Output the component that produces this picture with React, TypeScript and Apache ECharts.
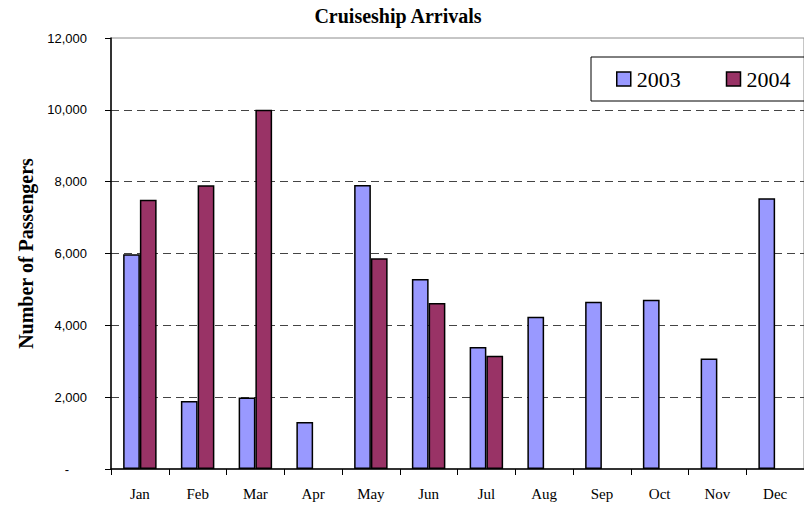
import React, { useEffect, useRef } from "react";
import * as echarts from "echarts";

const months = ["Jan", "Feb", "Mar", "Apr", "May", "Jun", "Jul", "Aug", "Sep", "Oct", "Nov", "Dec"];
const arrivals2003 = [5980, 1890, 1990, 1310, 7910, 5290, 3400, 4240, 4660, 4710, 3080, 7540];
const arrivals2004: (number | null)[] = [7500, 7900, 10000, null, 5870, 4620, 3150, null, null, null, null, null];
const yTicks = { min: 0, max: 12000, interval: 2000 };

export default function App() {
  const ref = useRef<HTMLDivElement>(null);
  useEffect(() => {
    if (!ref.current) return;
    const chart = echarts.init(ref.current, null, { renderer: "svg" });
    const serif = "Liberation Serif";
    const sans = "Liberation Sans";
    chart.setOption({
      animation: false,
      backgroundColor: "#ffffff",
      title: {
        text: "Cruiseship Arrivals",
        left: 398,
        top: 6,
        textAlign: "center",
        padding: 0,
        textStyle: { fontFamily: serif, fontSize: 20, fontWeight: "bold", color: "#000" },
      },
      legend: {
        orient: "horizontal",
        left: 591,
        top: 57,
        width: 260,
        padding: [11, 25, 11, 25],
        borderColor: "#000",
        borderWidth: 1,
        itemWidth: 14,
        itemHeight: 14,
        itemGap: 45,
        icon: "rect",
        textStyle: { fontFamily: serif, fontSize: 22, color: "#000", padding: [0, 0, 0, 1] },
        itemStyle: { borderColor: "#000", borderWidth: 1.5 },
        data: ["2003", "2004"],
      },
      grid: {
        left: 111,
        top: 38,
        bottom: 36,
        right: -10,
        show: true,
        borderColor: "#8c8c8c",
        borderWidth: 1,
        backgroundColor: "transparent",
      },
      xAxis: {
        type: "category",
        data: months,
        axisLine: { lineStyle: { color: "#000", width: 1.5 } },
        axisTick: { show: true, length: 6, lineStyle: { color: "#000", width: 1 } },
        axisLabel: { fontFamily: serif, fontSize: 15, color: "#000", margin: 17 },
      },
      yAxis: {
        type: "value",
        min: yTicks.min,
        max: yTicks.max,
        interval: yTicks.interval,
        name: "Number of Passengers",
        nameLocation: "middle",
        nameGap: 58,
        nameTextStyle: { fontFamily: serif, fontSize: 20, fontWeight: "bold", color: "#000" },
        axisLine: { show: true, lineStyle: { color: "#000", width: 1.5 } },
        axisTick: { show: true, length: 6, lineStyle: { color: "#000", width: 1 } },
        axisLabel: {
          fontFamily: sans,
          fontSize: 13,
          color: "#000",
          margin: 24,
          formatter: (v: number) => (v === 0 ? "{d|-}" : v.toLocaleString("en-US")),
          rich: { d: { fontFamily: sans, fontSize: 13, color: "#000", padding: [0, 18, 0, 0] } },
        },
        splitLine: {
          show: true,
          showMinLine: false,
          showMaxLine: false,
          lineStyle: { color: "#444", type: [8, 5], width: 1 },
        },
      },
      series: [
        {
          name: "2003",
          type: "bar",
          data: arrivals2003,
          barGap: "0%",
          barCategoryGap: "42%",
          itemStyle: { color: "#9999ff", borderColor: "#000", borderWidth: 1.5 },
        },
        {
          name: "2004",
          type: "bar",
          data: arrivals2004,
          barGap: "0%",
          barCategoryGap: "42%",
          itemStyle: { color: "#993366", borderColor: "#000", borderWidth: 1.5 },
        },
      ],
    });
    return () => chart.dispose();
  }, []);
  return <div ref={ref} style={{ position: "fixed", left: 0, top: 0, width: 804, height: 505 }} />;
}
